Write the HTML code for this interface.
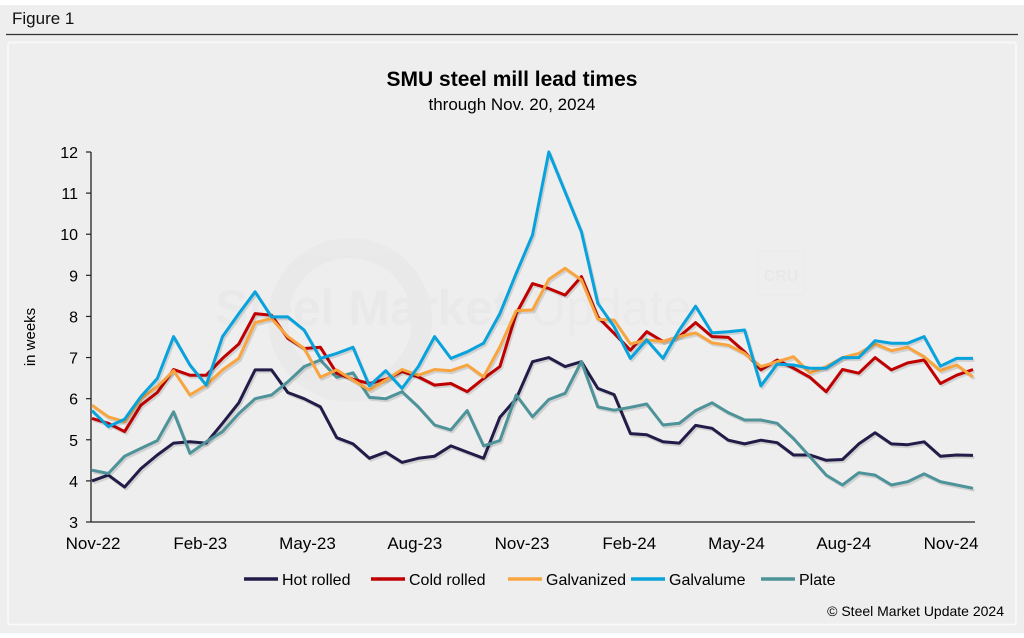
<!DOCTYPE html>
<html><head><meta charset="utf-8"><style>
html,body{margin:0;padding:0;background:#fff;}
body{width:1024px;height:633px;position:relative;overflow:hidden;font-family:"Liberation Sans",sans-serif;}
svg text{font-family:"Liberation Sans",sans-serif;}
</style></head><body>
<svg id="chart" width="1024" height="633" viewBox="0 0 1024 633" xmlns="http://www.w3.org/2000/svg">
<rect x="0" y="5" width="1024" height="628" fill="#eeeeee"/>
<text x="12" y="24" font-size="17" fill="#111">Figure 1</text>
<line x1="6" y1="34.5" x2="1018" y2="34.5" stroke="#333" stroke-width="1.2"/>
<rect x="8" y="42.5" width="1008" height="582" fill="#eeeeee" stroke="#fafafa" stroke-width="1.5" rx="2"/>
<g opacity="0.35">
<circle cx="350" cy="320" r="72" fill="none" stroke="#e2e2e2" stroke-width="20"/>
<text x="215" y="325" font-size="50" font-weight="bold" fill="#e0e0e0">Steel Market</text>
<text x="530" y="325" font-size="50" fill="#e3e3e3">Update</text>
<rect x="758" y="251" width="46" height="44" rx="3" fill="none" stroke="#e2e2e2"/>
<text x="781" y="281" font-size="16" font-weight="bold" fill="#dedede" text-anchor="middle">CRU</text>
</g>
<text x="512" y="86" font-size="21" font-weight="bold" text-anchor="middle" fill="#000">SMU steel mill lead times</text>
<text x="512" y="110" font-size="17" text-anchor="middle" fill="#000">through Nov. 20, 2024</text>
<text transform="translate(35,337) rotate(-90)" font-size="15" text-anchor="middle" fill="#000">in weeks</text>
<g id="axes"></g>
<g id="series"></g>
<g id="legend"></g>
<text x="1004" y="616" font-size="14" text-anchor="end" fill="#000">© Steel Market Update 2024</text>
</svg>
<script>
const xLabels = ["Nov-22","Feb-23","May-23","Aug-23","Nov-23","Feb-24","May-24","Aug-24","Nov-24"];
const yTicks = [3,4,5,6,7,8,9,10,11,12];
const seriesNames = ["Hot rolled","Cold rolled","Galvanized","Galvalume","Plate"];
const hotRolled = [4.0,4.14,3.85,4.3,4.63,4.92,4.95,4.92,5.4,5.9,6.7,6.7,6.15,6.0,5.8,5.05,4.9,4.55,4.7,4.45,4.55,4.6,4.85,4.7,4.55,5.55,6.0,6.9,7.0,6.78,6.9,6.25,6.1,5.15,5.12,4.95,4.92,5.35,5.28,4.99,4.9,4.99,4.93,4.63,4.63,4.5,4.52,4.9,5.17,4.9,4.88,4.95,4.6,4.63,4.62];
const coldRolled = [5.52,5.4,5.2,5.84,6.15,6.71,6.57,6.57,6.98,7.33,8.07,8.03,7.47,7.22,7.25,6.62,6.47,6.37,6.47,6.66,6.53,6.33,6.37,6.17,6.49,6.78,8.07,8.8,8.68,8.52,8.97,7.99,7.59,7.18,7.63,7.39,7.51,7.85,7.51,7.49,7.14,6.7,6.94,6.74,6.52,6.17,6.71,6.62,7.0,6.7,6.87,6.94,6.37,6.57,6.71];
const galvanized = [5.84,5.56,5.44,6.0,6.29,6.68,6.09,6.33,6.7,6.98,7.85,7.95,7.51,7.22,6.52,6.7,6.45,6.21,6.45,6.71,6.57,6.71,6.68,6.82,6.53,7.26,8.14,8.16,8.9,9.17,8.89,7.93,7.91,7.33,7.43,7.39,7.51,7.6,7.36,7.3,7.1,6.78,6.9,7.02,6.63,6.78,7.0,7.1,7.33,7.17,7.25,7.02,6.68,6.82,6.53];
const galvalume = [5.71,5.32,5.5,6.05,6.49,7.51,6.82,6.33,7.51,8.07,8.6,7.99,7.99,7.67,6.98,7.1,7.25,6.31,6.68,6.25,6.78,7.51,6.98,7.14,7.35,8.07,9.05,9.98,12.0,11.03,10.06,8.32,7.75,6.98,7.43,6.98,7.67,8.25,7.6,7.63,7.67,6.31,6.84,6.82,6.74,6.74,7.0,7.0,7.41,7.35,7.35,7.51,6.79,6.98,6.98];
const plate = [4.26,4.18,4.6,4.79,4.98,5.68,4.67,4.95,5.2,5.64,6.0,6.09,6.41,6.78,6.94,6.52,6.63,6.03,6.0,6.17,5.8,5.36,5.24,5.71,4.85,4.98,6.09,5.56,5.98,6.13,6.9,5.8,5.72,5.79,5.87,5.36,5.4,5.71,5.9,5.66,5.48,5.48,5.4,5.03,4.59,4.14,3.9,4.2,4.14,3.9,3.98,4.17,3.98,3.9,3.82];
const colors = ["#221c48","#c00000","#f8a540","#08a2dc","#4d9399"];

const NS="http://www.w3.org/2000/svg";
const X0=92, X1=973, Y0=522, Y1=152, YMIN=3, YMAX=12;
const n = hotRolled.length;
function xs(i){return X0+(X1-X0)*i/(n-1);}
function ys(v){return Y0-(v-YMIN)/(YMAX-YMIN)*(Y0-Y1);}
function mk(tag,attrs,parent){const e=document.createElementNS(NS,tag);for(const k in attrs)e.setAttribute(k,attrs[k]);parent.appendChild(e);return e;}
const axes=document.getElementById('axes');
const ya=mk('line',{x1:X0-1,y1:Y1,x2:X0-1,y2:Y0,stroke:'#222','stroke-width':1.3},axes);


const xa=mk('line',{x1:X0-1,y1:Y0,x2:X1+2,y2:Y0,stroke:'#222','stroke-width':1.3},axes);


yTicks.forEach(v=>{
  const y=ys(v);
  const t=mk('line',{x1:X0-6,y1:y,x2:X0-1,y2:y,stroke:'#222','stroke-width':1.2},axes);
  
  
  const l=mk('text',{x:X0-14,y:y+6,'font-size':16,'text-anchor':'end',fill:'#000'},axes);
  l.textContent=v;
  
  
});
xLabels.forEach((s,k)=>{
  const x=93+(951-93)*k/(xLabels.length-1);
  const l=mk('text',{x:x,y:549,'font-size':17,'text-anchor':'middle',fill:'#000'},axes);
  l.textContent=s;
  
  
});
const data=[hotRolled,coldRolled,galvanized,galvalume,plate];
const order=[0,4,1,2,3];
const sg=document.getElementById('series');
order.forEach(si=>{
  const pts=data[si].map((v,i)=>xs(i).toFixed(1)+','+ys(v).toFixed(1)).join(' ');
  const sh=mk('polyline',{points:pts,fill:'none',stroke:'#000','stroke-opacity':0.12,'stroke-width':3,transform:'translate(1.5,2)','stroke-linejoin':'round'},sg);
  
  
  const p=mk('polyline',{points:pts,fill:'none',stroke:colors[si],'stroke-width':3,'stroke-linejoin':'round'},sg);
  
  
});
const lg=document.getElementById('legend');
const lx=[244,371,508,631,761];
seriesNames.forEach((s,i)=>{
  const g=mk('g',{},lg);
  
  
  mk('line',{x1:lx[i],y1:579,x2:lx[i]+34,y2:579,stroke:colors[i],'stroke-width':3.5},g);
  const t=mk('text',{x:lx[i]+38,y:585,'font-size':16,fill:'#000'},g);
  t.textContent=s;
});
</script>
</body></html>
